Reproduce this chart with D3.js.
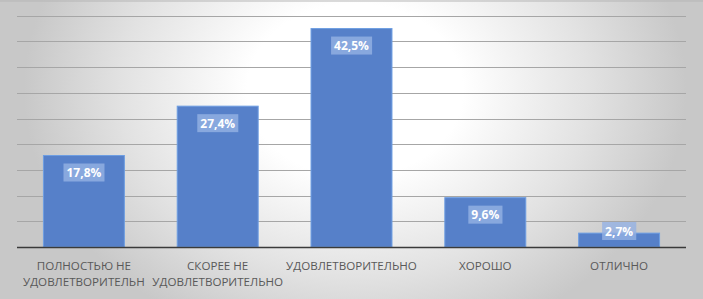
<!DOCTYPE html>
<html><head><meta charset="utf-8">
<script src="https://cdn.jsdelivr.net/npm/d3@7"></script>
<style>html,body{margin:0;padding:0;background:#fff;}svg{display:block;}</style>
</head><body>
<script>
const categories = [["ПОЛНОСТЬЮ НЕ","УДОВЛЕТВОРИТЕЛЬН"],["СКОРЕЕ НЕ","УДОВЛЕТВОРИТЕЛЬНО"],["УДОВЛЕТВОРИТЕЛЬНО"],["ХОРОШО"],["ОТЛИЧНО"]];
const values = [17.8, 27.4, 42.5, 9.6, 2.7];
const valueLabels = ["17,8%","27,4%","42,5%","9,6%","2,7%"];
const yTicks = [0,5,10,15,20,25,30,35,40,45];

const W = 703, H = 299;
const svg = d3.select("body").append("svg").attr("width", W).attr("height", H);
const defs = svg.append("defs");
const g = defs.append("radialGradient").attr("id","bg").attr("gradientUnits","userSpaceOnUse")
  .attr("cx",355).attr("cy",90).attr("r",360)
  .attr("gradientTransform","translate(355,90) scale(1,0.8) translate(-355,-90)");
g.append("stop").attr("offset",0).attr("stop-color","#ffffff");
g.append("stop").attr("offset",0.3).attr("stop-color","#ffffff");
g.append("stop").attr("offset",0.65).attr("stop-color","#e2e2e2");
g.append("stop").attr("offset",0.92).attr("stop-color","#c8c8c8");
g.append("stop").attr("offset",1).attr("stop-color","#c8c8c8");
svg.append("rect").attr("width",W).attr("height",H).attr("fill","url(#bg)");
svg.append("line").attr("x1",0).attr("x2",W).attr("y1",1).attr("y2",1).attr("stroke","#b5b5b5").attr("stroke-width",1);

const x = d3.scaleBand().domain(d3.range(values.length)).range([17, 686]).paddingInner(0.395).paddingOuter(0.1975);
const y = d3.scaleLinear().domain([0,45]).range([247, 15.7]);

svg.append("g").selectAll("line").data(yTicks.filter(d=>d>0)).join("line")
  .attr("x1",17).attr("x2",686).attr("y1",d=>Math.round(y(d))+0.5).attr("y2",d=>Math.round(y(d))+0.5)
  .attr("stroke","#a6a6a6").attr("stroke-width",1);

svg.append("g").selectAll("rect").data(values).join("rect")
  .attr("x",(d,i)=>x(i)).attr("width",x.bandwidth())
  .attr("y",d=>y(d)).attr("height",d=>y(0)-y(d))
  .attr("fill","#5680c9").attr("stroke","#6e9ee2").attr("stroke-width",1);

svg.append("line").attr("x1",17).attr("x2",686).attr("y1",247.5).attr("y2",247.5)
  .attr("stroke","#3a3a3a").attr("stroke-width",1.6);

const lab = svg.append("g").selectAll("g").data(values).join("g");
lab.each(function(d,i){
  const gg = d3.select(this);
  const cx = x(i) + x.bandwidth()/2;
  const top = Math.min(y(d)+8, y(0)-25);
  const t = gg.append("text").attr("x",cx).attr("y",top+13.5)
    .attr("text-anchor","middle").attr("font-family","Open Sans, sans-serif")
    .attr("font-size",12).attr("font-weight",700).attr("fill","#ffffff").text(valueLabels[i]);
  const bb = t.node().getBBox();
  gg.insert("rect","text").attr("x",bb.x-3).attr("y",top).attr("width",bb.width+6).attr("height",18)
    .attr("fill","#95b2e4").attr("fill-opacity",0.8);
});

const xl = svg.append("g").selectAll("text").data(categories).join("text")
  .attr("text-anchor","middle").attr("font-family","Open Sans, sans-serif")
  .attr("font-size",11.6).attr("fill","#595959");
xl.each(function(d,i){
  const t = d3.select(this);
  d.forEach((line,k)=>{
    t.append("tspan").attr("x",x(i)+x.bandwidth()/2).attr("y",270+k*16).text(line);
  });
});
</script>
</body></html>
